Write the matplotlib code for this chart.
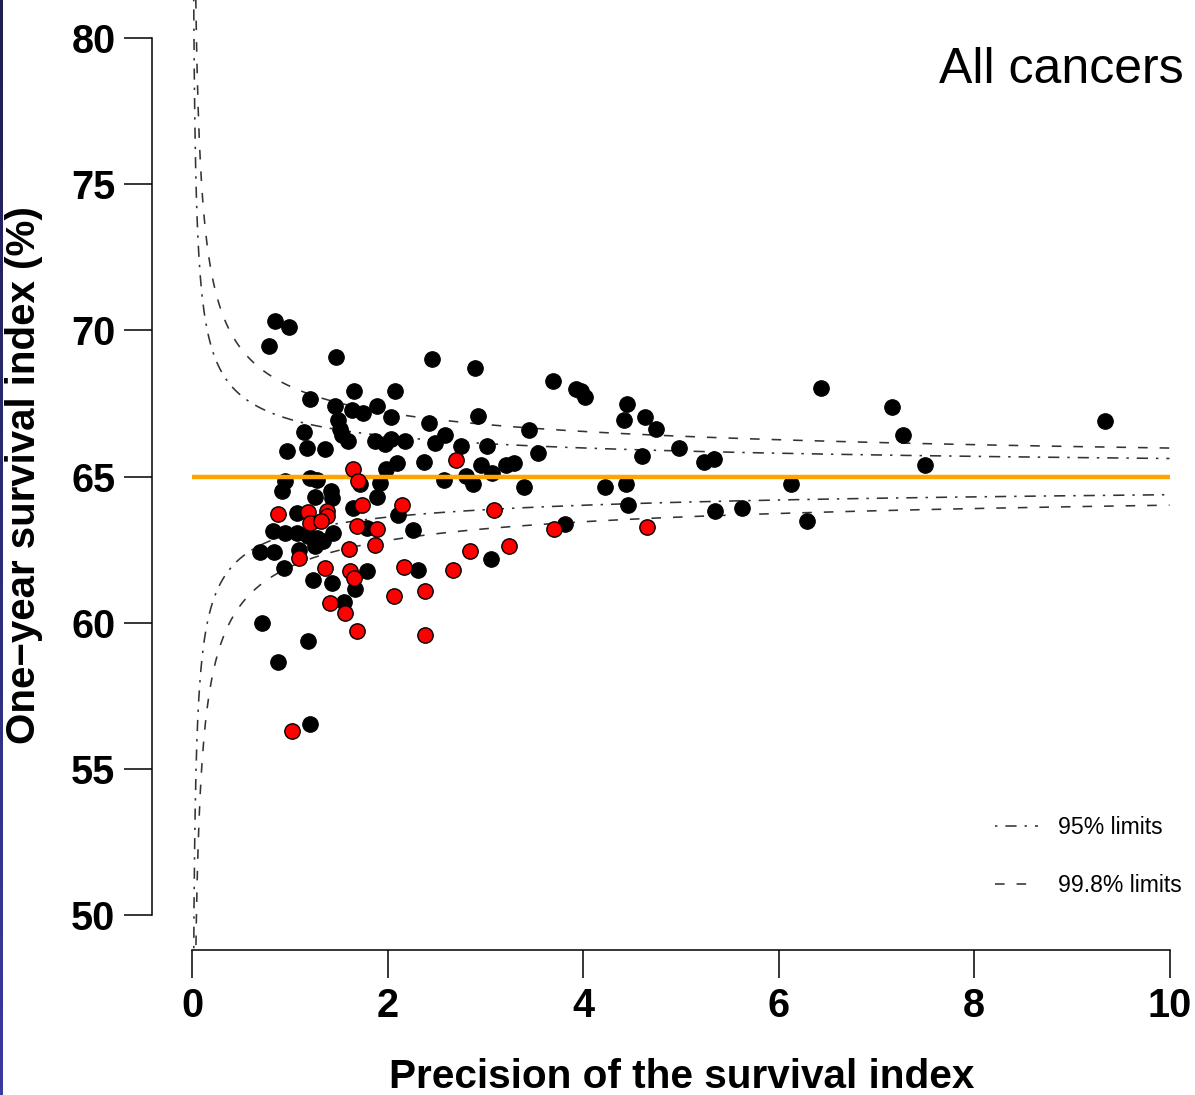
import numpy as np
import matplotlib
matplotlib.use("Agg")
import matplotlib.pyplot as plt
from matplotlib.lines import Line2D
from matplotlib.colors import LinearSegmentedColormap

plt.rcParams['font.family'] = ['Liberation Sans', 'DejaVu Sans']

# Units within the expected range: precision and one-year survival index (%)
black_x = [0.847, 0.985, 0.781, 1.466, 2.452, 2.888, 3.687, 3.926, 3.977, 4.020,
           6.432, 7.156, 7.276, 7.497, 9.337, 1.656, 2.071, 1.204, 1.459, 1.630,
           1.750, 1.885, 2.038, 1.493, 1.510, 1.531, 1.595, 1.146, 0.966, 1.170,
           1.357, 1.867, 1.977, 2.038, 2.173, 2.418, 2.582, 2.480, 2.745, 2.923,
           3.015, 2.099, 1.987, 2.370, 2.959, 2.803, 2.870, 3.068, 2.574, 1.918,
           1.714, 1.895, 0.949, 0.921, 1.204, 1.272, 1.255, 1.418, 1.426, 1.068,
           1.646, 2.105, 1.783, 2.258, 0.830, 0.949, 1.068, 1.187, 1.272, 1.442,
           1.340, 1.255, 0.694, 0.840, 1.097, 0.942, 1.238, 1.434, 1.783, 2.309,
           1.663, 1.556, 3.058, 0.711, 1.187, 0.881, 1.204, 3.442, 3.534, 3.211,
           3.296, 3.398, 4.446, 4.418, 4.633, 4.742, 4.980, 4.605, 5.235, 5.337,
           4.224, 4.436, 4.462, 3.816, 5.347, 5.626, 6.126, 6.289]
black_y = [70.33, 70.13, 69.47, 69.11, 69.01, 68.73, 68.26, 68.00, 67.92, 67.73,
           68.04, 67.39, 66.44, 65.39, 66.92, 67.93, 67.93, 67.67, 67.41, 67.28,
           67.17, 67.43, 67.04, 66.95, 66.64, 66.44, 66.22, 66.52, 65.88, 65.99,
           65.94, 66.21, 66.10, 66.27, 66.23, 66.83, 66.44, 66.15, 66.06, 67.07,
           66.06, 65.47, 65.26, 65.51, 65.41, 65.01, 64.73, 65.13, 64.90, 64.79,
           64.73, 64.30, 64.84, 64.50, 64.96, 64.90, 64.29, 64.50, 64.26, 63.76,
           63.93, 63.70, 63.24, 63.16, 63.13, 63.07, 63.07, 62.98, 62.90, 63.07,
           62.78, 62.61, 62.43, 62.43, 62.50, 61.87, 61.45, 61.35, 61.78, 61.80,
           61.15, 60.70, 62.19, 59.99, 59.37, 58.67, 56.53, 66.59, 65.81, 65.41,
           65.47, 64.65, 67.47, 66.95, 67.04, 66.63, 65.98, 65.72, 65.49, 65.61,
           64.65, 64.76, 64.04, 63.39, 63.81, 63.93, 64.73, 63.47]

red_x = [0.881, 1.187, 1.374, 1.374, 1.204, 1.316, 1.732, 1.681, 1.646, 1.691,
         2.701, 2.146, 1.885, 1.867, 1.602, 1.092, 1.362, 1.612, 1.656, 2.163,
         2.666, 2.837, 2.064, 2.378, 2.378, 1.413, 1.561, 1.681, 1.023, 3.092,
         3.238, 3.704, 4.656]
red_y = [63.73, 63.78, 63.81, 63.64, 63.41, 63.47, 64.04, 63.32, 65.26, 64.84,
         65.56, 64.04, 63.21, 62.67, 62.52, 62.21, 61.88, 61.76, 61.53, 61.91,
         61.80, 62.47, 60.93, 61.10, 59.59, 60.68, 60.33, 59.73, 56.28, 63.85,
         62.61, 63.22, 63.26]

target = 65.0
z95 = 1.96
z998 = 3.09
x_ticks = [0, 2, 4, 6, 8, 10]
y_ticks = [50, 55, 60, 65, 70, 75, 80]

W, H = 1195, 1095
fig = plt.figure(figsize=(W / 100, H / 100), dpi=100)
fig.patch.set_facecolor('white')

ax = fig.add_axes([192.3 / W, 1 - 950 / H, (1169.5 - 192.3) / W, 950 / H])
ax.set_xlim(0, 10)
ax.set_ylim(48.8, 81.31)

# Control limits around the target: target +/- z / sqrt(precision)
prec = np.linspace(0.002, 10, 5000)
se = 1.0 / np.sqrt(prec)
lim_col = '#333333'
ls95 = (0, (1.5, 5, 7, 5))
ls998 = (0, (6, 7.5))
for sgn in (1, -1):
    ax.plot(prec, target + sgn * z95 * se, color=lim_col, lw=1.15, ls=ls95, zorder=2)
    ax.plot(prec, target + sgn * z998 * se, color=lim_col, lw=1.15, ls=ls998, zorder=2)

ax.scatter(black_x, black_y, s=125, facecolor='black', edgecolor='black',
           linewidth=0.8, zorder=3)
ax.plot([0, 10], [target, target], color='#FFA500', lw=3.2, solid_capstyle='butt', zorder=4)
ax.scatter(red_x, red_y, s=122, facecolor='#FF0000', edgecolor='black',
           linewidth=1.0, zorder=5)

# Axes styling: detached left axis, no box
for side in ('top', 'right'):
    ax.spines[side].set_visible(False)
ax.spines['left'].set_position(('outward', 28.8))
ax.spines['left'].set_bounds(50, 80)
ax.spines['bottom'].set_bounds(0, 10)
for side in ('left', 'bottom'):
    ax.spines[side].set_linewidth(1.1)
ax.set_xticks(x_ticks)
ax.set_yticks(y_ticks)
ax.set_xticklabels([str(t) for t in x_ticks], fontweight='bold')
ax.set_yticklabels([str(t) for t in y_ticks], fontweight='bold')
ax.tick_params(direction='out', length=20, width=1.1, pad=6.5, labelsize=28.5,
               colors='black')

fig.text(24 / W, 1 - 475 / H, 'One\u2212year survival index (%)', rotation=90,
         ha='center', va='center', fontsize=29, fontweight='bold')
fig.text(682 / W, 1 - 1077 / H, 'Precision of the survival index',
         ha='center', va='center', fontsize=29.2, fontweight='bold')
fig.text(1184 / W, 1 - 83 / H, 'All cancers', ha='right', va='baseline',
         fontsize=36)

handles = [Line2D([], [], color=lim_col, lw=1.15, ls=ls95),
           Line2D([], [], color=lim_col, lw=1.15, ls=ls998)]
ax.legend(handles, ['95% limits', '99.8% limits'], loc='upper left',
          bbox_to_anchor=(995 / W, 1 - 816 / H), bbox_transform=fig.transFigure,
          frameon=False, fontsize=16.6, handlelength=1.87, handletextpad=0.87,
          labelspacing=1.52, borderpad=0, borderaxespad=0)

# Slide-edge strip on the left
strip = fig.add_axes([0, 0, 3 / W, 1])
cmap = LinearSegmentedColormap.from_list('edge', ['#1e1e50', '#3a3aa0'])
strip.imshow(np.linspace(0, 1, 256).reshape(-1, 1), aspect='auto', cmap=cmap)
strip.axis('off')

fig.savefig('out.png', dpi=100)
